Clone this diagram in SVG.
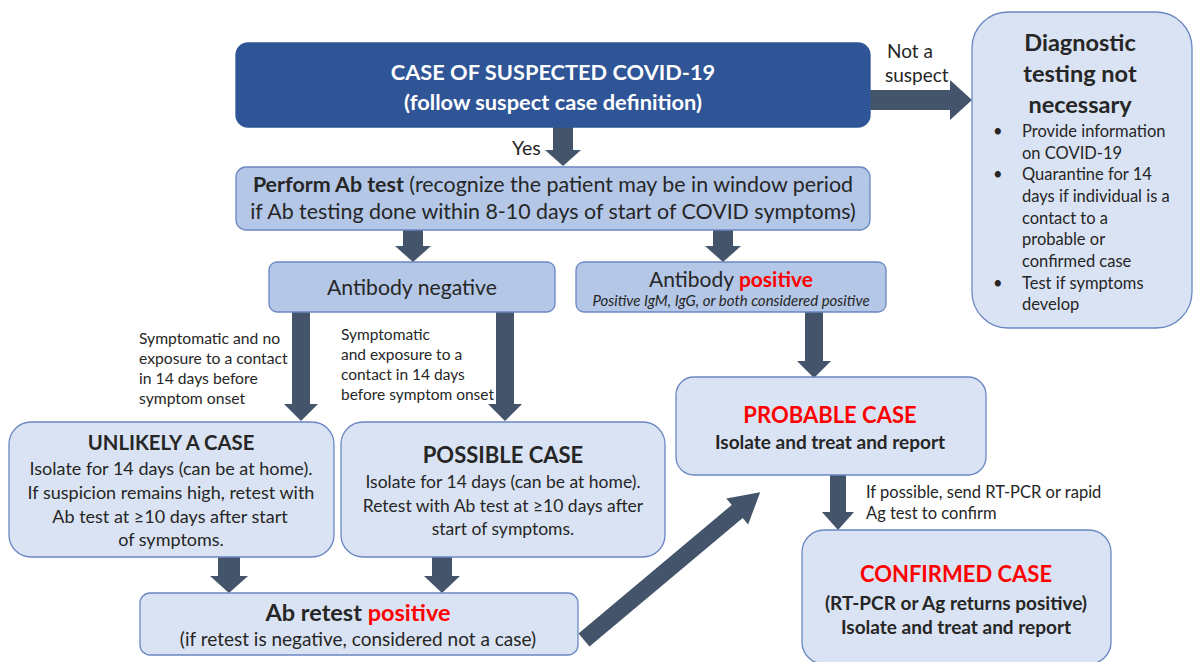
<svg xmlns="http://www.w3.org/2000/svg" width="1193" height="662" viewBox="0 0 1193 662">
  <style>
    text { font-family: Lato, "Open Sans", "Liberation Sans", sans-serif; fill: #262626; }
    .c { text-anchor: middle; }
    .b { font-weight: bold; }
    .red { fill: #FF0000; }
    .wh { fill: #FFFFFF; }
    .light { fill: #DAE3F3; stroke: #6A87C2; stroke-width: 1.3; }
    .mid { fill: #B4C7E7; stroke: #6A87C2; stroke-width: 1.3; }
    .dark { fill: #2F5597; stroke: #2F5597; stroke-width: 1.3; }
    .arrow { fill: #44546A; }
  </style>

  <!-- connectors: block arrows -->
  <g id="connectors">
    <!-- not a suspect -->
    <polygon class="arrow" points="870,90 950,90 950,80 972,100 950,120 950,110 870,110"/>
    <!-- yes -->
    <polygon class="arrow" points="553,127 573,127 573,150 581,150 563,166 545,150 553,150"/>
    <!-- to antibody negative -->
    <polygon class="arrow" points="403,230 423,230 423,246 431,246 413,262 395,246 403,246"/>
    <!-- to antibody positive -->
    <polygon class="arrow" points="713,230 733,230 733,246 741,246 723,262 705,246 713,246"/>
    <!-- to unlikely -->
    <polygon class="arrow" points="292,312 310,312 310,404 318,404 301,421 284,404 292,404"/>
    <!-- to possible -->
    <polygon class="arrow" points="496,312 514,312 514,404 522,404 505,421 488,404 496,404"/>
    <!-- to probable -->
    <polygon class="arrow" points="805,312 823,312 823,361 831,361 814,378 797,361 805,361"/>
    <!-- to confirmed -->
    <polygon class="arrow" points="830,475 846,475 846,512 854,512 838,530 822,512 830,512"/>
    <!-- unlikely to retest -->
    <polygon class="arrow" points="218,557 240,557 240,576 248,576 229,593 210,576 218,576"/>
    <!-- possible to retest -->
    <polygon class="arrow" points="432,557 452,557 452,576 460,576 442,593 424,576 432,576"/>
    <!-- retest to probable -->
    <polygon class="arrow" transform="translate(584,640) rotate(-40)" points="0,-8.5 200,-8.5 200,-17 230,0 200,17 200,8.5 0,8.5"/>
  </g>

  <g id="suspected">
    <rect class="dark" x="236" y="43" width="634" height="84" rx="12"/>
    <text class="c b wh" x="553" y="80" font-size="21.8">CASE OF SUSPECTED COVID-19</text>
    <text class="c b wh" x="553" y="110" font-size="21.8">(follow suspect case definition)</text>
  </g>

  <g id="label-not-suspect">
    <text x="887" y="58" font-size="19">Not a</text>
    <text x="885" y="82" font-size="19">suspect</text>
  </g>
  <g id="label-yes">
    <text x="512" y="155" font-size="19.5">Yes</text>
  </g>

  <g id="not-necessary">
    <rect class="light" x="972" y="12" width="220" height="316" rx="36"/>
    <text class="c b" x="1080" y="51" font-size="23.5">Diagnostic</text>
    <text class="c b" x="1080" y="82" font-size="23.5">testing not</text>
    <text class="c b" x="1080" y="113" font-size="23.5">necessary</text>
    <g font-size="16.5">
      <text x="993" y="137">•</text>
      <text x="1022" y="137">Provide information</text>
      <text x="1022" y="159">on COVID-19</text>
      <text x="993" y="180">•</text>
      <text x="1022" y="180">Quarantine for 14</text>
      <text x="1022" y="202">days if individual is a</text>
      <text x="1022" y="224">contact to a</text>
      <text x="1022" y="245">probable or</text>
      <text x="1022" y="267">confirmed case</text>
      <text x="993" y="289">•</text>
      <text x="1022" y="289">Test if symptoms</text>
      <text x="1022" y="310">develop</text>
    </g>
  </g>

  <g id="perform-ab">
    <rect class="mid" x="236" y="167" width="634" height="63" rx="10"/>
    <text class="c" x="553" y="192" font-size="21.4"><tspan class="b">Perform Ab test</tspan> (recognize the patient may be in window period</text>
    <text class="c" x="553" y="219" font-size="21.4">if Ab testing done within 8-10 days of start of COVID symptoms)</text>
  </g>

  <g id="ab-negative">
    <rect class="mid" x="269" y="262" width="286" height="50" rx="8"/>
    <text class="c" x="412" y="295" font-size="21.2">Antibody negative</text>
  </g>

  <g id="ab-positive">
    <rect class="mid" x="576" y="262" width="310" height="50" rx="8"/>
    <text class="c" x="731" y="287" font-size="21">Antibody <tspan class="b red">positive</tspan></text>
    <text class="c" x="731" y="306" font-size="15" font-style="italic">Positive IgM, IgG, or both considered positive</text>
  </g>

  <g id="label-no-exposure" font-size="15.7">
    <text x="139" y="344">Symptomatic and no</text>
    <text x="139" y="364">exposure to a contact</text>
    <text x="139" y="384">in 14 days before</text>
    <text x="139" y="404">symptom onset</text>
  </g>
  <g id="label-exposure" font-size="15.5">
    <text x="341" y="340">Symptomatic</text>
    <text x="341" y="360">and exposure to a</text>
    <text x="341" y="380">contact in 14 days</text>
    <text x="341" y="400">before symptom onset</text>
  </g>

  <g id="unlikely">
    <rect class="light" x="9" y="422" width="325" height="135" rx="22"/>
    <text class="c b" x="171" y="450" font-size="20.3">UNLIKELY A CASE</text>
    <g font-size="18">
      <text class="c" x="171" y="475">Isolate for 14 days (can be at home).</text>
      <text class="c" x="171" y="499">If suspicion remains high, retest with</text>
      <text class="c" x="170" y="523">Ab test at ≥10 days after start</text>
      <text class="c" x="171" y="546">of symptoms.</text>
    </g>
  </g>

  <g id="possible">
    <rect class="light" x="341" y="422" width="324" height="135" rx="22"/>
    <text class="c b" x="503" y="463" font-size="22">POSSIBLE CASE</text>
    <g font-size="17.5">
      <text class="c" x="503" y="488">Isolate for 14 days (can be at home).</text>
      <text class="c" x="503" y="512">Retest with Ab test at ≥10 days after</text>
      <text class="c" x="503" y="535">start of symptoms.</text>
    </g>
  </g>

  <g id="probable">
    <rect class="light" x="676" y="377" width="310" height="98" rx="18"/>
    <text class="c b red" x="830" y="423" font-size="22">PROBABLE CASE</text>
    <text class="c b" x="830" y="449" font-size="19">Isolate and treat and report</text>
  </g>

  <g id="label-confirm" font-size="16.5">
    <text x="866" y="498">If possible, send RT-PCR or rapid</text>
    <text x="866" y="519">Ag test to confirm</text>
  </g>

  <g id="confirmed">
    <rect class="light" x="802" y="530" width="309" height="134" rx="22"/>
    <text class="c b red" x="956" y="582" font-size="22">CONFIRMED CASE</text>
    <text class="c b" x="956" y="610" font-size="19">(RT-PCR or Ag returns positive)</text>
    <text class="c b" x="956" y="634" font-size="19">Isolate and treat and report</text>
  </g>

  <g id="ab-retest">
    <rect class="light" x="140" y="593" width="438" height="62" rx="10"/>
    <text class="c b" x="358" y="621" font-size="23.5">Ab retest <tspan class="red">positive</tspan></text>
    <text class="c" x="358" y="646" font-size="19">(if retest is negative, considered not a case)</text>
  </g>
</svg>
